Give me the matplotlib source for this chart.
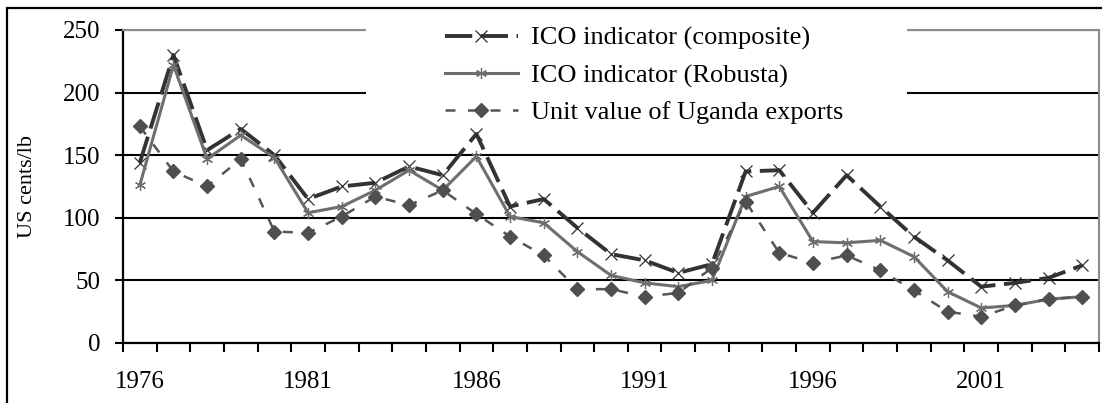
import matplotlib
matplotlib.use('Agg')
import matplotlib.pyplot as plt
from matplotlib.patches import Rectangle
from matplotlib.ticker import FixedLocator, NullFormatter

plt.rcParams['font.family'] = ['Liberation Serif', 'DejaVu Serif']

# данные
years = list(range(1976, 2005))
composite = [144, 230, 154, 171, 150, 115, 125, 128, 141, 134, 167, 109, 115, 92, 71, 66,
             56, 63, 137, 138, 104, 134, 109, 85, 66, 45, 48, 52, 62]
robusta = [126, 222, 147, 166, 148, 104, 109, 122, 138, 122, 149, 101, 96, 73, 54, 48,
           45, 50, 117, 125, 81, 80, 82, 69, 41, 28, 30, 35, 37]
uganda = [173, 137, 125, 147, 89, 88, 101, 117, 110, 122, 103, 85, 70, 43, 43, 37,
          40, 60, 113, 72, 64, 70, 58, 42, 25, 21, 30, 35, 37]
labels = ['ICO indicator (composite)', 'ICO indicator (Robusta)', 'Unit value of Uganda exports']
y_ticks = [0, 50, 100, 150, 200, 250]
label_step = 5


def main():
    fig = plt.figure(figsize=(11.02, 4.03), dpi=100)
    ax = fig.add_axes([0.1116, 0.1489, 0.8857, 0.7767])
    pos = list(range(len(years)))

    # рамка вокруг всей картинки
    fig.patches.append(Rectangle((0.0064, -0.05), 1.1, 1.03, transform=fig.transFigure,
                                 fill=False, edgecolor='black', linewidth=1.6))

    ax.plot(pos, composite, color='#333333', linewidth=2.8, dashes=(7, 2.2),
            marker='x', markersize=8, markeredgewidth=0.9, markeredgecolor='#303030',
            label=labels[0], zorder=3)
    ax.plot(pos, robusta, color='#6e6e6e', linewidth=2.2,
            marker=(6, 2, 0), markersize=8, markeredgewidth=0.9, markeredgecolor='#6e6e6e',
            label=labels[1], zorder=3)
    ax.plot(pos, uganda, color='#555555', linewidth=1.8, dashes=(4, 5),
            marker='D', markersize=7, markerfacecolor='#4f4f4f', markeredgecolor='#4f4f4f',
            label=labels[2], zorder=3)

    ax.set_xlim(-0.5, len(years) - 0.5)
    ax.set_ylim(0, 250)

    # оси и сетка
    ax.set_yticks(y_ticks)
    ax.yaxis.grid(True, color='black', linewidth=1.5)
    ax.set_axisbelow(True)
    ax.tick_params(axis='y', direction='out', length=6, width=1.5, pad=10, labelsize=18)
    ax.set_xticks(pos[::label_step])
    ax.set_xticklabels([str(y) for y in years[::label_step]])
    ax.xaxis.set_minor_locator(FixedLocator([p - 0.5 for p in pos] + [len(years) - 0.5]))
    ax.xaxis.set_minor_formatter(NullFormatter())
    ax.tick_params(axis='x', which='major', length=0, pad=20, labelsize=18)
    ax.tick_params(axis='x', which='minor', direction='out', length=6.5, width=1.5)
    for side in ['left', 'bottom']:
        ax.spines[side].set_linewidth(1.6)
        ax.spines[side].set_color('black')
    for side in ['top', 'right']:
        ax.spines[side].set_linewidth(1.5)
        ax.spines[side].set_color('#8c8c8c')

    ax.set_ylabel('US cents/lb', fontsize=16)
    ax.yaxis.set_label_coords(-0.088, 0.5)

    # белая подложка легенды поверх сетки
    ax.add_patch(Rectangle((0.249, 0.70), 0.554, 0.32, transform=ax.transAxes,
                           facecolor='white', edgecolor='none', zorder=2.6, clip_on=False))
    ax.legend(loc='upper left', bbox_to_anchor=(0.33, 1.011), frameon=False, fontsize=19,
              handlelength=2.75, handletextpad=0.5, labelspacing=0.5,
              borderpad=0, borderaxespad=0)

    fig.savefig('out.png', dpi=100)


if __name__ == "__main__":
    main()
